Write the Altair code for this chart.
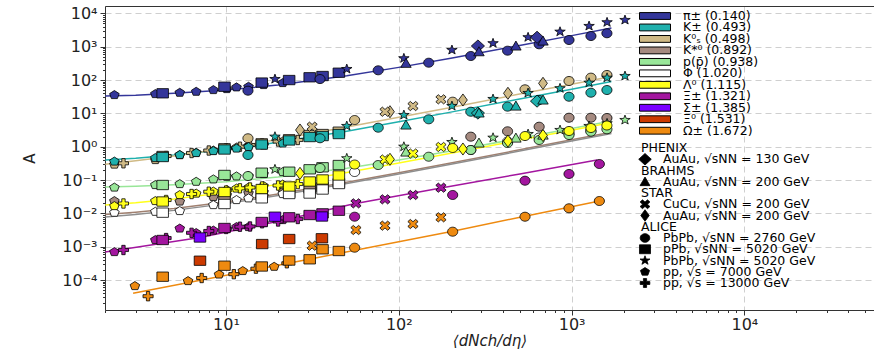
import math
import altair as alt
import pandas as pd

# ---------------- multiplicity classes <dNch/deta> per data set ----------------
PP7_X = [2.26, 3.90, 5.40, 6.72, 8.45, 10.1, 11.5, 13.5, 16.5, 21.3]
PP13_X = [2.55, 4.50, 6.32, 7.95, 10.02, 12.04, 13.77, 16.17, 20.02, 26.02]
PPB_X = [4.3, 9.8, 16.1, 23.2, 30.5, 36.2, 45.0]
PBPB276_X = [13.4, 35.0, 76.0, 149.0, 261.0, 426.0, 649.0, 966.0, 1294.0, 1601.0]
PBPB276_MS_X = [55.5, 205.0, 537.5, 966.0, 1447.5]
PBPB502_X = [19.2, 50.0, 107.0, 203.0, 351.0, 560.0, 857.0, 1262.0, 1604.0, 2037.0]
STAR_AUAU_X = [26.8, 88.9, 235.0, 428.0, 683.0]
STAR_CUCU_X = [31.5, 56.5, 83.2, 120.8, 175.4]
PHENIX_X = [287.0, 631.0]
BRAHMS_X = [110.0, 291.0, 476.0, 683.0]

# ---------------- A values ----------------
PI_PP7 = [35.6, 38.1, 41.7, 44.7, 50.2, 53.8, 60.5, 63.1, 71.0, 81.5]
PI_PPB = [40, 63, 84, 100, 121, 132, 166]
PI_PBPB276 = [47.9, 107, 196, 331, 526, 759, 1180, 1590, 2090, 2530]
PI_PBPB502 = [107, 214, 449, 797, 1270, 1920, 2820, 4180, 5400, 6330]
PI_PHENIX = [1050, 1920]
PI_BRAHMS = [318, 708, 1050, 1480]

K_PP7 = [0.36, 0.458, 0.564, 0.647, 0.743, 0.824, 0.883, 0.98, 1.09, 1.25]
K_PPB = [0.491, 0.824, 1.16, 1.54, 1.95, 2.09, 2.40]
K_PBPB276 = [0.564, 1.79, 3.72, 6.64, 11.2, 15.9, 25.2, 31.6, 41.7, 50.2]
K_PBPB502 = [2.0, 4.18, 8.93, 16.6, 27.0, 40.8, 56.5, 83.2, 117, 132]
K_PHENIX = [10.2, 23.3]
K_BRAHMS = [4.48, 10.3, 16.6, 25.2]

K0S_PP7 = [0.292, 0.399, 0.563, 0.661, 0.77, 0.883, 0.946, 1.05, 1.2, 1.43]
K0S_PP13 = [0.318, 0.526, 0.647, 0.769, 0.895, 1.0, 1.12, 1.25, 1.43, 1.59]
K0S_PPB = [0.526, 0.895, 1.26, 1.67, 2.24, 2.40, 2.82]
K0S_PBPB276_X = [13.4, 55.5, 205.0, 537.5, 966.0, 1294.0, 1601.0]
K0S_PBPB276 = [1.79, 6.32, 22.4, 52.7, 93.6, 118, 142]
K0S_STAR_AUAU = [3.17, 11.2, 25.2, 40.0, 79.8]
K0S_CUCU_X = [31.5, 83.2, 120.8, 175.4]
K0S_CUCU = [3.98, 11.2, 16.6, 26.4]

KST_PP7_X = [2.26, 5.40, 8.45, 10.1, 13.5, 16.5, 21.3]
KST_PP7 = [0.0235, 0.0227, 0.031, 0.0356, 0.0408, 0.0438, 0.0469]
KST_PPB_X = [9.8, 16.1, 23.2, 30.5, 36.2, 45.0]
KST_PPB = [0.027, 0.0356, 0.0408, 0.0557, 0.0618, 0.0815]
KST_PBPB276_X = [261.0, 426.0, 649.0, 966.0, 1294.0, 1601.0]
KST_PBPB276 = [2.0, 2.9, 3.98, 7.41, 7.41, 7.26]

P_PP7 = [0.0597, 0.071, 0.076, 0.0891, 0.105, 0.126, 0.129, 0.132, 0.152, 0.174]
P_PPB = [0.071, 0.142, 0.166, 0.178, 0.21, 0.241, 0.282]
P_PBPB276 = [0.132, 0.23, 0.282, 0.501, 0.796, 1.29, 1.59, 2.24, 2.82, 3.33]
P_PBPB502 = [0.21, 0.449, 1.0, 1.38, 1.86, 2.4, 3.17, 4.18, 5.03, 6.32]
P_BRAHMS = [0.693, 1.29, 1.82, 2.24]

PHI_PP7_X = [2.26, 3.90, 5.40, 8.45, 11.5, 13.5, 16.5, 21.3]
PHI_PP7 = [0.0105, 0.0112, 0.0118, 0.0178, 0.0252, 0.0283, 0.0332, 0.0381]
PHI_PPB = [0.0105, 0.0191, 0.0283, 0.0381, 0.0394, 0.052, 0.076]
PHI_PBPB276_X = [55.5, 261.0, 426.0, 649.0, 966.0, 1294.0]
PHI_PBPB276 = [0.174, 0.796, 1.43, 1.89, 2.49, 2.96]

LAM_PP7 = [0.0166, 0.0235, 0.0356, 0.0394, 0.0453, 0.0502, 0.0557, 0.0597, 0.0662, 0.0734]
LAM_PP13 = [0.0198, 0.0252, 0.0381, 0.0447, 0.0485, 0.0565, 0.0597, 0.064, 0.0686, 0.076]
LAM_PPB = [0.0227, 0.0438, 0.0538, 0.064, 0.0904, 0.104, 0.137]
LAM_PBPB276_X = [55.5, 205.0, 537.5, 966.0, 1294.0, 1601.0]
LAM_PBPB276 = [0.292, 0.914, 2.09, 2.96, 3.64, 4.33]
LAM_CUCU_X = [83.2, 120.8, 175.4]
LAM_CUCU = [0.413, 0.625, 0.98]
LAM_STAR_AUAU = [0.159, 0.419, 0.853, 1.48, 2.17]

XI_PP7 = [6.93e-4, 1.59e-3, 3.52e-3, 2.58e-3, 3.06e-3, 3.40e-3, 3.90e-3, 3.90e-3, 5.14e-3, 6.32e-3]
XI_PP13 = [7.96e-4, 1.82e-3, 2.61e-3, 2.96e-3, 3.40e-3, 3.98e-3, 4.04e-3, 5.04e-3, 5.70e-3, 6.78e-3]
XI_PPB = [1.59e-3, 3.64e-3, 5.51e-3, 7.62e-3, 8.93e-3, 1.00e-2, 1.20e-2]
XI_PBPB276 = [7.94e-3, 0.0356, 0.0955, 0.152, 0.303]
XI_CUCU_X = [56.5, 83.2, 120.8, 175.4]
XI_CUCU = [0.020, 0.0264, 0.0356, 0.0589]

SIG_X = [7.07, 19.2, 35.9]
SIG = [1.89e-3, 7.94e-3, 8.05e-3]

XI0_X = [7.07, 16.2, 23.2, 35.9]
XI0 = [3.8e-4, 1.2e-3, 1.7e-3, 1.79e-3]

OM_PP7_X = [2.97, 6.03, 9.11, 12.5, 19.0]
OM_PP7 = [6.62e-5, 9.35e-5, 1.47e-4, 1.87e-4, 2.51e-4]
OM_PP13_X = [3.54, 7.23, 11.1, 14.9, 22.5]
OM_PP13 = [3.27e-5, 1.15e-4, 1.50e-4, 2.19e-4, 3.18e-4]
OM_PPB = [1.26e-4, 2.69e-4, 2.55e-4, 3.85e-4, 4.19e-4, 8.36e-4, 7.43e-4]
OM_PBPB276 = [9.33e-4, 2.82e-3, 7.94e-3, 0.0142, 0.0235]
OM_CUCU = [1.07e-3, 3.17e-3, 4.27e-3, 4.80e-3, 7.62e-3]

# ---------------- fit curves ----------------
FIT_X = [2, 3, 5, 10, 20, 50, 100, 200, 500, 1000, 1700]
PI_FIT = [33, 35, 40, 50, 71, 135, 240, 450, 1090, 2150, 3630]
K_FIT = [0.40, 0.45, 0.56, 0.82, 1.35, 2.9, 5.6, 10.9, 27, 53, 90]
K0S_FIT = [0.30, 0.38, 0.53, 0.90, 1.65, 3.9, 7.7, 15, 38, 75, 128]
P_FIT = [0.062, 0.065, 0.072, 0.089, 0.124, 0.227, 0.399, 0.743, 1.78, 3.5, 5.9]
LAM_FIT = [0.0178, 0.0209, 0.0272, 0.0428, 0.0741, 0.168, 0.325, 0.638, 1.58, 3.14, 5.3]
PHI_FIT = [0.0078, 0.0093, 0.0123, 0.0196, 0.0343, 0.0784, 0.152, 0.299, 0.74, 1.475, 2.5]
KST_FIT = [0.0092, 0.0108, 0.014, 0.022, 0.038, 0.086, 0.166, 0.326, 0.806, 1.606, 2.7]
XI_FIT_X = [2.0, 7.07, 20.5, 54.3, 175.4, 502, 1403]
XI_FIT = [6.93e-4, 1.89e-3, 5.9e-3, 0.019, 0.0577, 0.152, 0.399]
OM_FIT_X = [2.9, 28.7, 205, 537, 1450]
OM_FIT = [4.0e-5, 4.0e-4, 2.9e-3, 8.2e-3, 0.0235]

# ---------------- categories / styling ----------------
SPECIES = ["pi", "K", "K0s", "Kstar", "p", "phi", "Lambda", "Xi", "Sigma", "Xi0", "Omega"]
SPECIES_LABELS = ["π± (0.140)", "K± (0.493)", "K⁰ₛ (0.498)", "K*⁰ (0.892)", "p(p̄) (0.938)",
                  "Φ (1.020)", "Λ⁰ (1.115)", "Ξ± (1.321)", "Σ± (1.385)", "Ξ⁰ (1.531)", "Ω± (1.672)"]
SPECIES_COLORS = ["#34369a", "#1fb0ad", "#d0ba86", "#a58a80", "#98e698", "#ffffff",
                  "#ffff1a", "#a3169f", "#7a00ff", "#cc3a00", "#ee8a10"]
LINE_COLORS = ["#34369a", "#1fb0ad", "#d0ba86", "#a08070", "#98e698", "#8e8e8e",
               "#ffff1a", "#a3169f", "#7a00ff", "#cc3a00", "#ee8a10"]

EXPS = ["phenix130", "brahms200", "starCuCu", "starAuAu", "pbpb2760",
        "ppb5020", "pbpb5020", "pp7000", "pp13000"]
SHAPE_LEGEND = [
    ("PHENIX", None),
    ("AuAu, √sNN = 130 GeV", "phenix130"),
    ("BRAHMS", None),
    ("AuAu, √sNN = 200 GeV", "brahms200"),
    ("STAR", None),
    ("CuCu, √sNN = 200 GeV", "starCuCu"),
    ("AuAu, √sNN = 200 GeV", "starAuAu"),
    ("ALICE", None),
    ("PbPb, √sNN = 2760 GeV", "pbpb2760"),
    ("pPb, √sNN = 5020 GeV", "ppb5020"),
    ("PbPb, √sNN = 5020 GeV", "pbpb5020"),
    ("pp, √s = 7000 GeV", "pp7000"),
    ("pp, √s = 13000 GeV", "pp13000"),
]

SERIES = [
    ("pi", "pp7000", PP7_X, PI_PP7), ("pi", "ppb5020", PPB_X, PI_PPB),
    ("pi", "pbpb2760", PBPB276_X, PI_PBPB276), ("pi", "pbpb5020", PBPB502_X, PI_PBPB502),
    ("pi", "phenix130", PHENIX_X, PI_PHENIX), ("pi", "brahms200", BRAHMS_X, PI_BRAHMS),
    ("K0s", "pp7000", PP7_X, K0S_PP7), ("K0s", "pp13000", PP13_X, K0S_PP13),
    ("K0s", "ppb5020", PPB_X, K0S_PPB), ("K0s", "pbpb2760", K0S_PBPB276_X, K0S_PBPB276),
    ("K0s", "starAuAu", STAR_AUAU_X, K0S_STAR_AUAU), ("K0s", "starCuCu", K0S_CUCU_X, K0S_CUCU),
    ("K", "pp7000", PP7_X, K_PP7), ("K", "ppb5020", PPB_X, K_PPB),
    ("K", "pbpb2760", PBPB276_X, K_PBPB276), ("K", "pbpb5020", PBPB502_X, K_PBPB502),
    ("K", "phenix130", PHENIX_X, K_PHENIX), ("K", "brahms200", BRAHMS_X, K_BRAHMS),
    ("Kstar", "pp7000", KST_PP7_X, KST_PP7), ("Kstar", "ppb5020", KST_PPB_X, KST_PPB),
    ("Kstar", "pbpb2760", KST_PBPB276_X, KST_PBPB276),
    ("phi", "pp7000", PHI_PP7_X, PHI_PP7), ("phi", "ppb5020", PPB_X, PHI_PPB),
    ("phi", "pbpb2760", PHI_PBPB276_X, PHI_PBPB276),
    ("p", "pp7000", PP7_X, P_PP7), ("p", "ppb5020", PPB_X, P_PPB),
    ("p", "pbpb2760", PBPB276_X, P_PBPB276), ("p", "pbpb5020", PBPB502_X, P_PBPB502),
    ("p", "brahms200", BRAHMS_X, P_BRAHMS),
    ("Lambda", "pp7000", PP7_X, LAM_PP7), ("Lambda", "pp13000", PP13_X, LAM_PP13),
    ("Lambda", "ppb5020", PPB_X, LAM_PPB), ("Lambda", "pbpb2760", LAM_PBPB276_X, LAM_PBPB276),
    ("Lambda", "starCuCu", LAM_CUCU_X, LAM_CUCU), ("Lambda", "starAuAu", STAR_AUAU_X, LAM_STAR_AUAU),
    ("Xi", "pp7000", PP7_X, XI_PP7), ("Xi", "pp13000", PP13_X, XI_PP13),
    ("Xi", "ppb5020", PPB_X, XI_PPB), ("Xi", "pbpb2760", PBPB276_MS_X, XI_PBPB276),
    ("Xi", "starCuCu", XI_CUCU_X, XI_CUCU),
    ("Sigma", "ppb5020", SIG_X, SIG),
    ("Xi0", "ppb5020", XI0_X, XI0),
    ("Omega", "pp7000", OM_PP7_X, OM_PP7), ("Omega", "pp13000", OM_PP13_X, OM_PP13),
    ("Omega", "ppb5020", PPB_X, OM_PPB), ("Omega", "pbpb2760", PBPB276_MS_X, OM_PBPB276),
    ("Omega", "starCuCu", STAR_CUCU_X, OM_CUCU),
]

FITS = [
    ("pi", FIT_X, PI_FIT), ("K", FIT_X, K_FIT), ("K0s", FIT_X, K0S_FIT),
    ("Kstar", FIT_X, KST_FIT), ("phi", FIT_X, PHI_FIT), ("p", FIT_X, P_FIT),
    ("Lambda", FIT_X, LAM_FIT), ("Xi", XI_FIT_X, XI_FIT), ("Omega", OM_FIT_X, OM_FIT),
]

# ---------------- marker geometry (unit coordinates) ----------------
def poly(pts):
    return "M" + "L".join(f"{x:.3f},{y:.3f}" for x, y in pts) + "Z"


def ellipse(rx, ry, n=28):
    return poly([(rx * math.cos(2 * math.pi * k / n), ry * math.sin(2 * math.pi * k / n)) for k in range(n)])


def radial(n, r, sy, inner=None):
    m = 2 * n if inner else n
    pts = []
    for k in range(m):
        ang = -math.pi / 2 + 2 * math.pi * k / m
        rr = r if (inner is None or k % 2 == 0) else r * inner
        pts.append((rr * math.cos(ang), sy * rr * math.sin(ang)))
    return poly(pts)


def plus(a, t, sx, sy, rot=0.0):
    base = [(-t, -a), (t, -a), (t, -t), (a, -t), (a, t), (t, t), (t, a), (-t, a),
            (-t, t), (-a, t), (-a, -t), (-t, -t)]
    c, s = math.cos(rot), math.sin(rot)
    return poly([(sx * (x * c - y * s), sy * (x * s + y * c)) for x, y in base])


SHAPES = {
    "phenix130": poly([(0, -1.1), (1.2, 0), (0, 1.1), (-1.2, 0)]),
    "brahms200": poly([(0, -0.9), (0.95, 0.74), (-0.95, 0.74)]),
    "starCuCu": plus(1.0, 0.32, 1.0, 0.9, math.pi / 4),
    "starAuAu": poly([(0, -1.1), (0.8, 0), (0, 1.1), (-0.8, 0)]),
    "pbpb2760": ellipse(0.92, 0.82),
    "ppb5020": poly([(-1.05, -0.85), (1.05, -0.85), (1.05, 0.85), (-1.05, 0.85)]),
    "pbpb5020": radial(5, 1.0, 0.9, inner=0.4),
    "pp7000": radial(5, 0.92, 0.88),
    "pp13000": plus(1.0, 0.33, 0.92, 0.85),
}
RECT_PATH = poly([(-1, -0.22), (1, -0.22), (1, 0.22), (-1, 0.22)])

# ---------------- tables ----------------
rows = []
for sp, ex, xs, ys in SERIES:
    assert len(xs) == len(ys), (sp, ex)
    for xv, yv in zip(xs, ys):
        rows.append({"species": sp, "exp": ex, "x": xv, "A": yv})
points_df = pd.DataFrame(rows)

fit_rows = []
for sp, xs, ys in FITS:
    assert len(xs) == len(ys), sp
    for xv, yv in zip(xs, ys):
        fit_rows.append({"species": sp, "x": xv, "A": yv})
fit_df = pd.DataFrame(fit_rows)

leg_c_df = pd.DataFrame({"row": list(range(len(SPECIES))), "species": SPECIES, "label": SPECIES_LABELS})
leg_s_df = pd.DataFrame({"row": list(range(len(SHAPE_LEGEND))),
                         "label": [l for l, _ in SHAPE_LEGEND],
                         "exp": [e if e else "" for _, e in SHAPE_LEGEND],
                         "head": [e is None for _, e in SHAPE_LEGEND]})

# ---------------- scales & axes ----------------
W, H = 769, 304
X_DOM = [1.994, 56234.0]
Y_DOM = [1.262e-5, 16650.0]
FONT = "DejaVu Sans"

xscale = alt.Scale(type="log", domain=X_DOM, nice=False)
yscale = alt.Scale(type="log", domain=Y_DOM, nice=False)
fill_scale = alt.Scale(domain=SPECIES, range=SPECIES_COLORS)
stroke_scale = alt.Scale(domain=SPECIES, range=LINE_COLORS)
shape_scale = alt.Scale(domain=EXPS, range=[SHAPES[e] for e in EXPS])

MAJOR = "abs(log(datum.value)/LN10 - round(log(datum.value)/LN10)) < 0.001"


def sup(n):
    return str(n).translate(str.maketrans("-0123456789", "⁻⁰¹²³⁴⁵⁶⁷⁸⁹"))


def label_expr(exps):
    e = "round(log(datum.value)/LN10)"
    s = "''"
    for k in reversed(exps):
        s = f"({e} == {k} ? '10{sup(k)}' : {s})"
    return f"({MAJOR}) ? {s} : ''"


def ticks(lo, hi, n0, n1):
    out = []
    for n in range(n0, n1 + 1):
        for k in range(1, 10):
            v = round(k * 10.0 ** n, 12)
            if lo <= v <= hi:
                out.append(v)
    return out


x_ticks = ticks(X_DOM[0], X_DOM[1], 0, 4)
y_ticks = ticks(Y_DOM[0], Y_DOM[1], -5, 4)

common_axis = dict(
    grid=True, gridDash=[6, 4], gridColor="#cfcfcf", gridWidth=1,
    gridOpacity={"condition": {"test": MAJOR, "value": 1}, "value": 0},
    tickSize={"condition": {"test": MAJOR, "value": 5}, "value": 2.5},
    tickColor="#333333", domainColor="#333333", domainWidth=1,
    labelFont=FONT, labelFontSize=16, labelColor="#222222",
    labelOverlap=False, labelFlush=False,
    titleFont=FONT, titleFontSize=15, titleFontWeight="normal", titleColor="#222222",
)

x_axis = alt.Axis(values=x_ticks, labelExpr=label_expr([0, 1, 2, 3, 4]),
                  labelPadding=1, title="⟨dNch/dη⟩", titleFontStyle="italic",
                  titlePadding=1, **common_axis)
y_axis = alt.Axis(values=y_ticks, labelExpr=label_expr(list(range(-4, 5))),
                  labelPadding=3, title="A", titlePadding=24, **common_axis)

# ---------------- layers ----------------
lines = alt.Chart(fit_df).mark_line(strokeWidth=1.5, clip=True).encode(
    x=alt.X("x:Q", scale=xscale,
            axis=alt.Axis(orient="top", labels=False, ticks=False, grid=False,
                          domain=True, domainColor="#333333", title=None)),
    y=alt.Y("A:Q", scale=yscale, axis=y_axis),
    stroke=alt.Stroke("species:N", scale=stroke_scale, legend=None),
    detail="species:N",
)

points = alt.Chart(points_df).mark_point(filled=True, opacity=1, size=121,
                                         stroke="black", strokeWidth=0.8).encode(
    x=alt.X("x:Q", scale=xscale, axis=x_axis),
    y=alt.Y("A:Q", scale=yscale, axis=y_axis),
    fill=alt.Fill("species:N", scale=fill_scale, legend=None),
    shape=alt.Shape("exp:N", scale=shape_scale, legend=None),
)

main = alt.layer(lines, points).resolve_axis(x="independent")

yc = alt.Y("row:Q", scale=alt.Scale(domain=[0, 10], range=[10, 124.7]), axis=None)
leg_c_sym = alt.Chart(leg_c_df).mark_point(filled=True, opacity=1, size=961, shape=RECT_PATH,
                                           stroke="black", strokeWidth=1).encode(
    x=alt.value(550), y=yc,
    fill=alt.Fill("species:N", scale=fill_scale, legend=None),
)
leg_c_txt = alt.Chart(leg_c_df).mark_text(align="left", baseline="middle", font=FONT,
                                          fontSize=12.5, color="black").encode(
    x=alt.value(578), y=yc, text="label:N")

ys = alt.Y("row:Q", scale=alt.Scale(domain=[0, 12], range=[142, 277]), axis=None)
leg_s_sym = alt.Chart(leg_s_df).transform_filter("!datum.head").mark_point(
    filled=True, opacity=1, size=110, fill="black", stroke="black", strokeWidth=0.8).encode(
    x=alt.value(540), y=ys,
    shape=alt.Shape("exp:N", scale=shape_scale, legend=None),
)
leg_s_txt = alt.Chart(leg_s_df).transform_filter("!datum.head").mark_text(
    align="left", baseline="middle", font=FONT, fontSize=12.5, color="black").encode(
    x=alt.value(558), y=ys, text="label:N")
leg_s_head = alt.Chart(leg_s_df).transform_filter("datum.head").mark_text(
    align="left", baseline="middle", font=FONT, fontSize=12.5, color="black").encode(
    x=alt.value(536), y=ys, text="label:N")

chart = alt.layer(main, leg_c_sym, leg_c_txt, leg_s_sym, leg_s_txt, leg_s_head).resolve_scale(
    y="independent").properties(
    width=W, height=H,
    padding={"left": 105, "top": 6, "right": 0, "bottom": 39},
    autosize=alt.AutoSizeParams(type="none"),
).configure_view(stroke=None).configure(background="white")

chart.save("out.html", embed_options={"renderer": "svg", "actions": False})
